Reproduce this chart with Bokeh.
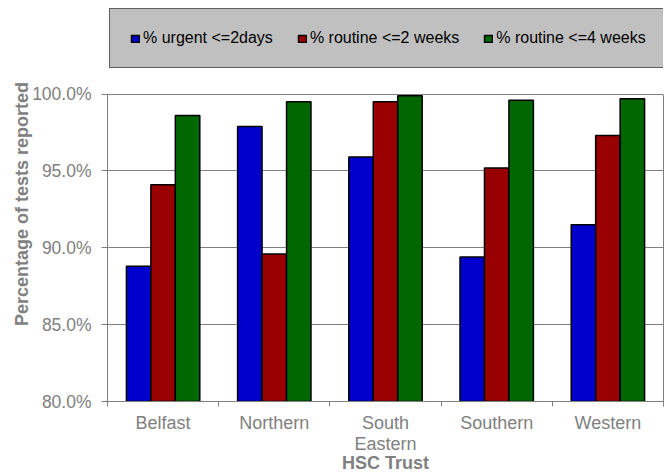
from bokeh.plotting import figure
from bokeh.models import (ColumnDataSource, FactorRange, Range1d, LinearAxis,
                          FixedTicker, PrintfTickFormatter, Legend, LegendItem)
from bokeh.transform import dodge
from bokeh.embed import file_html
from bokeh.resources import INLINE

# Percentage of tests reported within target, by HSC Trust
trusts = ["Belfast", "Northern", "South Eastern", "Southern", "Western"]
urgent_2days = [88.8, 97.9, 95.9, 89.4, 91.5]
routine_2weeks = [94.1, 89.6, 99.5, 95.2, 97.3]
routine_4weeks = [98.6, 99.5, 99.9, 99.6, 99.7]

series_labels = ["% urgent <=2days", "% routine <=2 weeks", "% routine <=4 weeks"]
series_colors = ["#0000CC", "#990000", "#006600"]
y_ticks = [80, 85, 90, 95, 100]
y_start, y_top_tick = 80, 100
y_view_end = 105.7   # headroom above 100% holds the legend box

FONT = "Liberation Sans"
GREY = "#808080"

source = ColumnDataSource(dict(
    trust=trusts,
    urgent=urgent_2days,
    routine2=routine_2weeks,
    routine4=routine_4weeks,
))

p = figure(
    x_range=FactorRange(*trusts, range_padding=0),
    y_range=Range1d(y_start, y_view_end),
    width=667, height=475,
    output_backend="svg", toolbar_location=None,
    x_axis_location=None,
    min_border_left=107, min_border_right=4,
    min_border_top=6, min_border_bottom=73,
    background_fill_color="white", border_fill_color="white",
)
p.outline_line_color = None

# bars, one dodged column per series
bar_w = 0.22
offsets = [-bar_w, 0.0, bar_w]
renderers = []
for col, off, color in zip(["urgent", "routine2", "routine4"], offsets, series_colors):
    r = p.vbar(x=dodge("trust", off, range=p.x_range), top=col, bottom=y_start,
               width=bar_w, source=source, fill_color=color,
               line_color="black", line_width=1.5)
    renderers.append(r)

# y axis
yax = p.yaxis[0]
yax.bounds = (y_start, y_top_tick)
yax.ticker = FixedTicker(ticks=y_ticks)
yax.formatter = PrintfTickFormatter(format="%.1f%%")
yax.major_label_text_font = FONT
yax.major_label_text_font_size = "17.5px"
yax.major_label_text_color = GREY
yax.major_label_standoff = 10
yax.major_tick_out = 6
yax.major_tick_in = 0
yax.minor_tick_out = 0
yax.minor_tick_in = 0
yax.major_tick_line_color = GREY
yax.axis_line_color = GREY
yax.axis_label = "Percentage of tests reported"
yax.axis_label_text_font = FONT
yax.axis_label_text_font_size = "18px"
yax.axis_label_text_font_style = "bold"
yax.axis_label_text_color = GREY
yax.axis_label_standoff = -3

# right-hand border of the plot area
right_border = LinearAxis(
    bounds=(y_start, y_top_tick), ticker=FixedTicker(ticks=[]),
    major_tick_out=0, major_tick_in=0, minor_tick_out=0, minor_tick_in=0,
    major_label_standoff=0, axis_line_color=GREY,
)
p.add_layout(right_border, "right")

p.ygrid.ticker = FixedTicker(ticks=y_ticks)
p.ygrid.grid_line_color = GREY
p.ygrid.grid_line_width = 1
p.xgrid.visible = False

# x axis on the factor range's synthetic coordinates:
# names at the category centres, tick marks on the boundaries between trusts
centers = [i + 0.5 for i in range(len(trusts))]
edges = list(range(len(trusts) + 1))
names = {c: ("South\nEastern" if t == "South Eastern" else t) for c, t in zip(centers, trusts)}
xax = LinearAxis(
    ticker=FixedTicker(ticks=centers, minor_ticks=edges),
    major_label_overrides=names,
    major_tick_out=0, major_tick_in=0, major_tick_line_color=None,
    minor_tick_out=5, minor_tick_in=0, minor_tick_line_color=GREY,
    axis_line_color=GREY,
    major_label_standoff=6,
    major_label_text_font=FONT,
    major_label_text_font_size="18px",
    major_label_text_color=GREY,
    major_label_text_line_height=1.05,
    axis_label="HSC Trust",
    axis_label_text_font=FONT,
    axis_label_text_font_size="18px",
    axis_label_text_font_style="bold",
    axis_label_text_color=GREY,
    axis_label_standoff=-4,
)
p.add_layout(xax, "below")

# legend box across the top
legend = Legend(
    items=[LegendItem(label=lab, renderers=[r]) for lab, r in zip(series_labels, renderers)],
    location="top_left",
    margin=2,
    orientation="horizontal",
    padding=20, spacing=24,
    glyph_width=10, glyph_height=9, label_standoff=3,
    label_text_font=FONT, label_text_font_size="16px", label_text_color="black",
    background_fill_color="#C0C0C0", background_fill_alpha=1.0,
    border_line_color="black", border_line_width=1.5,
)
p.add_layout(legend)

open("out.html", "w").write(file_html(p, INLINE))
